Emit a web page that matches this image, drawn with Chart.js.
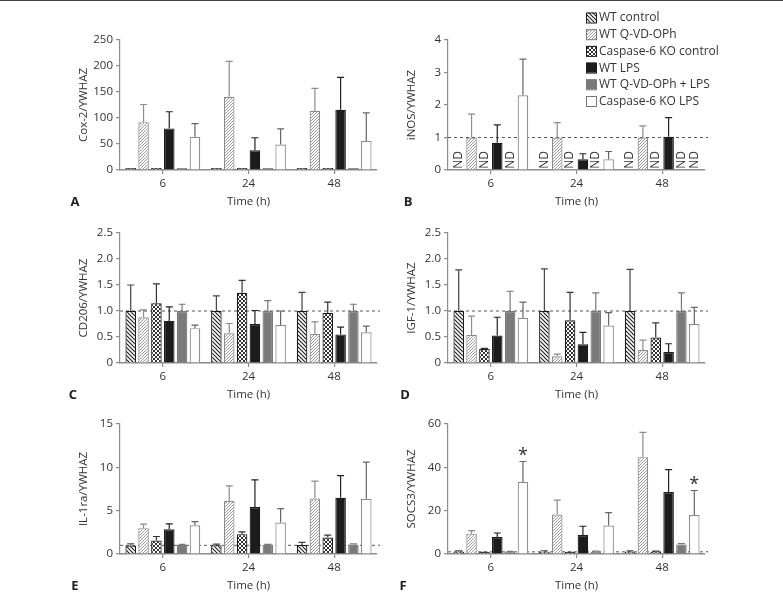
<!DOCTYPE html>
<html>
<head>
<meta charset="utf-8">
<script src="https://cdn.jsdelivr.net/npm/chart.js@4.4.1/dist/chart.umd.min.js"></script>
<style>
  html, body { margin: 0; padding: 0; background: #fff; }
  body { width: 783px; height: 606px; position: relative; overflow: hidden; }
  #topline { position: absolute; left: 0; top: 0; width: 783px; height: 1px; background: #444; }
  canvas { position: absolute; }
</style>
</head>
<body>
<div id="topline"></div>
<canvas id="panelA" width="325" height="215" style="left:60px;top:0px"></canvas>
<canvas id="panelB" width="395" height="215" style="left:388px;top:0px"></canvas>
<canvas id="panelC" width="325" height="215" style="left:60px;top:193px"></canvas>
<canvas id="panelD" width="332" height="215" style="left:388px;top:193px"></canvas>
<canvas id="panelE" width="325" height="215" style="left:60px;top:384px"></canvas>
<canvas id="panelF" width="332" height="215" style="left:388px;top:384px"></canvas>
<script>
// categories and groups
const TIMES = ["6", "24", "48"];
const GROUPS = ["WT control", "WT Q-VD-OPh", "Caspase-6 KO control", "WT LPS", "WT Q-VD-OPh + LPS", "Caspase-6 KO LPS"];

// each row = one group, values at 6 / 24 / 48 h; sd = upper error bar length
const coxMean = [[1, 1, 1], [92, 141, 114], [1, 1, 1], [80, 38, 116], [0.6, 0.6, 0.6], [64, 49, 56]];
const coxSd   = [[0, 0, 0], [34, 68, 43], [0, 0, 0], [32, 24, 62], [0, 0, 0], [25, 30, 54]];

// null = not detected (ND)
const inosMean = [[null, null, null], [1, 1, 1], [null, null, null], [0.84, 0.33, 1.02], [null, null, null], [2.3, 0.33, null]];
const inosSd   = [[0, 0, 0], [0.72, 0.46, 0.36], [0, 0, 0], [0.55, 0.17, 0.59], [0, 0, 0], [1.11, 0.24, 0]];

const cd206Mean = [[1, 1, 1], [0.88, 0.57, 0.56], [1.15, 1.35, 0.96], [0.81, 0.75, 0.55], [1, 1, 1], [0.67, 0.73, 0.59]];
const cd206Sd   = [[0.5, 0.29, 0.36], [0.14, 0.19, 0.23], [0.37, 0.24, 0.21], [0.27, 0.26, 0.14], [0.13, 0.2, 0.13], [0.06, 0.27, 0.12]];

const igfMean = [[1, 1, 1], [0.54, 0.13, 0.25], [0.27, 0.82, 0.49], [0.53, 0.36, 0.21], [1, 1, 1], [0.87, 0.72, 0.75]];
const igfSd   = [[0.79, 0.81, 0.8], [0.36, 0.04, 0.19], [0.01, 0.54, 0.28], [0.35, 0.23, 0.16], [0.38, 0.35, 0.35], [0.3, 0.25, 0.32]];

const il1raMean = [[0.97, 1.0, 1.03], [2.98, 6.15, 6.41], [1.56, 2.29, 1.91], [2.86, 5.42, 6.49], [1.05, 1.05, 1.08], [3.32, 3.63, 6.37]];
const il1raSd   = [[0.21, 0.15, 0.31], [0.46, 1.71, 1.99], [0.46, 0.27, 0.27], [0.61, 3.13, 2.56], [0.07, 0.05, 0.08], [0.42, 1.6, 4.23]];

const socsMean = [[1, 1, 1], [9.4, 18.2, 44.7], [0.5, 0.6, 1.0], [7.8, 8.8, 28.6], [1.0, 1.0, 4.4], [33.2, 13.1, 18]];
const socsSd   = [[0.5, 0.5, 0.4], [1.4, 6.7, 11.4], [0.3, 0.2, 0.3], [1.9, 4.0, 10.3], [0.2, 0.3, 0.4], [9.5, 6.0, 11.3]];
const socsStars = [[], [], [], [], [], [0, 2]];

const TEXT = "#333";
const AXIS = "#8c8c8c";
const FONT = "'Open Sans', sans-serif";
Chart.defaults.font.family = FONT;
Chart.defaults.font.size = 11.5;
Chart.defaults.color = TEXT;

function hatch(color, dir, size, lw) {
  const c = document.createElement("canvas");
  c.width = c.height = size;
  const g = c.getContext("2d");
  g.fillStyle = "#fff";
  g.fillRect(0, 0, size, size);
  g.strokeStyle = color;
  g.lineWidth = lw;
  const line = (x0, y0, x1, y1) => { g.beginPath(); g.moveTo(x0, y0); g.lineTo(x1, y1); g.stroke(); };
  if (dir.includes("/")) {
    line(-1, size + 1, size + 1, -1); line(-1, 1, 1, -1); line(size - 1, size + 1, size + 1, size - 1);
  }
  if (dir.includes("\\")) {
    line(-1, -1, size + 1, size + 1); line(size - 1, -1, size + 1, 1); line(-1, size - 1, 1, size + 1);
  }
  return g.createPattern(c, "repeat");
}

const FILLS = [hatch("#1a1a1a", "\\", 4, 1.1), hatch("#8f8f8f", "/", 3, 0.9), hatch("#1a1a1a", "/\\", 4, 0.9), "#1c1c1c", "#7a7a7a", "#fff"];
const BORDERS = ["#1a1a1a", "#8c8c8c", "#1a1a1a", "#1c1c1c", "#7a7a7a", "#8c8c8c"];
const ERRCOL = ["#444", "#8c8c8c", "#333", "#222", "#777", "#666"];

const errorBars = {
  id: "errorBars",
  afterDatasetsDraw(chart) {
    const ctx = chart.ctx, y = chart.scales.y;
    ctx.save();
    chart.data.datasets.forEach((ds, i) => {
      const meta = chart.getDatasetMeta(i);
      meta.data.forEach((bar, j) => {
        const v = ds.data[j], sd = ds.sd[j];
        if (v == null || !sd) return;
        const top = y.getPixelForValue(v + sd);
        ctx.strokeStyle = ds.errColor;
        ctx.lineWidth = 1.2;
        ctx.beginPath();
        ctx.moveTo(bar.x, bar.y);
        ctx.lineTo(bar.x, top);
        ctx.moveTo(bar.x - 3.5, top);
        ctx.lineTo(bar.x + 3.5, top);
        ctx.stroke();
        if (ds.stars && ds.stars.includes(j)) {
          ctx.fillStyle = TEXT;
          ctx.font = "18px " + FONT;
          ctx.textAlign = "center";
          ctx.textBaseline = "middle";
          ctx.fillText("*", bar.x, top - 6);
        }
      });
    });
    ctx.restore();
  }
};

const refLine = {
  id: "refLine",
  beforeDatasetsDraw(chart, args, opts) {
    if (opts.value == null) return;
    const {ctx, chartArea} = chart;
    const py = chart.scales.y.getPixelForValue(opts.value);
    ctx.save();
    ctx.strokeStyle = "#555";
    ctx.lineWidth = 1;
    ctx.setLineDash([3, 3]);
    ctx.beginPath();
    ctx.moveTo(chartArea.left, py);
    ctx.lineTo(chartArea.right + 3, py);
    ctx.stroke();
    ctx.restore();
  }
};

const ndLabels = {
  id: "ndLabels",
  afterDatasetsDraw(chart, args, opts) {
    if (!opts.show) return;
    const ctx = chart.ctx;
    const base = chart.scales.y.getPixelForValue(0);
    ctx.save();
    ctx.fillStyle = TEXT;
    ctx.font = "12px " + FONT;
    ctx.textAlign = "center";
    ctx.textBaseline = "middle";
    chart.data.datasets.forEach((ds, i) => {
      chart.getDatasetMeta(i).data.forEach((bar, j) => {
        if (ds.data[j] != null) return;
        ctx.save();
        ctx.translate(bar.x, base - 10);
        ctx.rotate(-Math.PI / 2);
        ctx.fillText("ND", 0, 0);
        ctx.restore();
      });
    });
    ctx.restore();
  }
};

const panelLetter = {
  id: "panelLetter",
  afterDraw(chart, args, opts) {
    const ctx = chart.ctx;
    ctx.save();
    ctx.fillStyle = "#222";
    ctx.font = "bold 13px " + FONT;
    ctx.textAlign = "center";
    ctx.textBaseline = "middle";
    ctx.fillText(opts.letter, opts.x, opts.y);
    ctx.restore();
  }
};

const legendBox = {
  id: "legendBox",
  afterDraw(chart, args, opts) {
    if (!opts.show) return;
    const ctx = chart.ctx;
    ctx.save();
    ctx.font = "12px " + FONT;
    ctx.textBaseline = "middle";
    ctx.textAlign = "left";
    GROUPS.forEach((g, i) => {
      const yc = opts.y + i * 16.7;
      ctx.fillStyle = FILLS[i];
      ctx.fillRect(opts.x, yc - 5, 10, 10);
      ctx.strokeStyle = BORDERS[i] === "#8c8c8c" ? "#777" : BORDERS[i];
      ctx.lineWidth = 1;
      ctx.strokeRect(opts.x + 0.5, yc - 4.5, 10, 10);
      ctx.fillStyle = TEXT;
      ctx.fillText(g, opts.x + 13, yc + 0.5);
    });
    ctx.restore();
  }
};

function makePanel(id, p) {
  return new Chart(document.getElementById(id), {
    type: "bar",
    data: {
      labels: TIMES,
      datasets: GROUPS.map((g, i) => ({
        label: g,
        data: p.mean[i],
        sd: p.sd[i],
        stars: p.stars ? p.stars[i] : null,
        backgroundColor: FILLS[i],
        borderColor: BORDERS[i],
        borderWidth: 1.2,
        borderSkipped: "start",
        minBarLength: 2,
        errColor: ERRCOL[i],
        categoryPercentage: 0.9,
        barPercentage: 0.82
      }))
    },
    options: {
      responsive: false,
      animation: false,
      devicePixelRatio: 1,
      layout: { padding: { left: 0, right: p.padR, top: 40, bottom: 0 } },
      plugins: {
        legend: { display: false },
        tooltip: { enabled: false },
        refLine: { value: p.ref },
        ndLabels: { show: !!p.nd },
        panelLetter: { letter: p.letter, x: p.lx, y: 202 },
        legendBox: { show: !!p.legend, x: 198, y: 17.5 }
      },
      scales: {
        x: {
          grid: { offset: false, drawOnChartArea: false, tickLength: 4, color: AXIS, lineWidth: 1.2 },
          border: { color: AXIS, width: 1.5 },
          ticks: { color: TEXT, padding: 3 },
          title: { display: true, text: "Time (h)", color: TEXT, padding: { top: 0, bottom: 6 } },
          afterFit: s => { s.height = 45; }
        },
        y: {
          min: 0,
          max: p.max,
          ticks: { stepSize: p.step, color: TEXT, padding: 3, callback: p.fmt || (v => v) },
          grid: { drawOnChartArea: false, tickLength: 4, color: AXIS, lineWidth: 1.2 },
          border: { color: AXIS, width: 1.2 },
          title: { display: true, text: p.ylabel, color: TEXT, padding: { top: 17, bottom: 0 } },
          afterFit: s => { s.width = 60; }
        }
      }
    },
    plugins: [refLine, errorBars, ndLabels, panelLetter, legendBox]
  });
}

const oneDec = v => (v === 0 ? "0" : v.toFixed(1));

makePanel("panelA", { mean: coxMean, sd: coxSd, max: 250, step: 50, ylabel: "Cox-2/YWHAZ", letter: "A", lx: 15, padR: 8 });
makePanel("panelB", { mean: inosMean, sd: inosSd, max: 4, step: 1, ylabel: "iNOS/YWHAZ", letter: "B", lx: 20, padR: 78, ref: 1, nd: true, legend: true });
makePanel("panelC", { mean: cd206Mean, sd: cd206Sd, max: 2.5, step: 0.5, fmt: oneDec, ylabel: "CD206/YWHAZ", letter: "C", lx: 13, padR: 8, ref: 1 });
makePanel("panelD", { mean: igfMean, sd: igfSd, max: 2.5, step: 0.5, fmt: oneDec, ylabel: "IGF-1/YWHAZ", letter: "D", lx: 17, padR: 15, ref: 1 });
makePanel("panelE", { mean: il1raMean, sd: il1raSd, max: 15, step: 5, ylabel: "IL-1ra/YWHAZ", letter: "E", lx: 15, padR: 8, ref: 1 });
makePanel("panelF", { mean: socsMean, sd: socsSd, stars: socsStars, max: 60, step: 20, ylabel: "SOCS3/YWHAZ", letter: "F", lx: 15, padR: 15, ref: 1 });
</script>
</body>
</html>
